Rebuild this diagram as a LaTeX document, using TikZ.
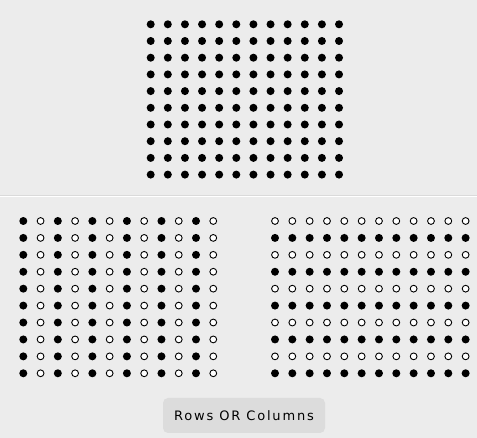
\documentclass[tikz,border=0pt]{standalone}
\usepackage{fontspec}
\setmainfont{DejaVu Sans}
\newfontfamily\btnfont[LetterSpace=14]{DejaVu Sans}
\definecolor{bg}{HTML}{ECECEC}
\definecolor{sep}{HTML}{DADADA}
\definecolor{btn}{HTML}{DCDCDC}
\begin{document}
\begin{tikzpicture}[x=1pt,y=-1pt,
  fdot/.style={circle,fill=black,inner sep=0pt,minimum size=8pt},
  odot/.style={circle,fill=white,draw=black,line width=0.9pt,inner sep=0pt,minimum size=6.8pt},
  btnbox/.style={rounded corners=5pt,fill=btn,minimum width=162pt,minimum height=35pt,font=\btnfont\fontsize{13}{15}\selectfont}]
\fill[bg] (0,0) rectangle (477,438);
\useasboundingbox (0,0) rectangle (477,438);
\draw[sep,line width=1pt] (0,195.5) -- (477,195.5);
\draw[white,line width=0.8pt] (0,196.6) -- (477,196.6);
% top grid
\foreach \i in {0,...,11}{
  \foreach \j in {0,...,9}{
    \node[fdot] (t-\i-\j) at ({150.7+\i*17.12},{24.3+\j*16.7}) {};
  }
}
% bottom left: alternating columns
\foreach \i in {0,...,11}{
  \foreach \j in {0,...,9}{
    \pgfmathtruncatemacro{\m}{mod(\i,2)}
    \ifnum\m=0
      \node[fdot] (l-\i-\j) at ({23.3+\i*17.27},{221+\j*16.92}) {};
    \else
      \node[odot] (l-\i-\j) at ({23.3+\i*17.27},{221+\j*16.92}) {};
    \fi
  }
}
% bottom right: alternating rows
\foreach \i in {0,...,11}{
  \foreach \j in {0,...,9}{
    \pgfmathtruncatemacro{\m}{mod(\j,2)}
    \ifnum\m=1
      \node[fdot] (r-\i-\j) at ({275+\i*17.33},{221+\j*16.92}) {};
    \else
      \node[odot] (r-\i-\j) at ({275+\i*17.33},{221+\j*16.92}) {};
    \fi
  }
}
\node[btnbox] (btn) at (244,415.5) {Rows OR Columns};
\end{tikzpicture}
\end{document}
